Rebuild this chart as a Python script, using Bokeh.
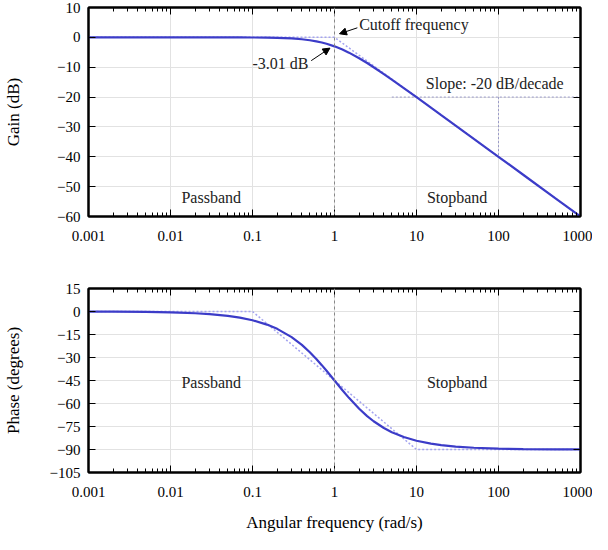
from bokeh.plotting import figure
from bokeh.layouts import column
from bokeh.models import (FixedTicker, CustomJSTickFormatter, LogAxis, LinearAxis,
                          Span, Arrow, NormalHead, Label)
from bokeh.embed import file_html
from bokeh.resources import INLINE

# ---- data ----
freq = [0.001, 0.002, 0.005, 0.01, 0.02, 0.03, 0.05, 0.07, 0.1, 0.15, 0.2, 0.3, 0.4,
        0.5, 0.6, 0.7, 0.8, 1.0, 1.25, 1.5, 2.0, 2.5, 3.0, 4.0, 5.0, 7.0, 10.0, 15.0,
        20.0, 30.0, 50.0, 100.0, 200.0, 500.0, 1000.0]
gain_db = [0.0, 0.0, 0.0, 0.0, 0.0, 0.0, -0.01, -0.02, -0.04, -0.1, -0.17, -0.37, -0.64,
           -0.97, -1.34, -1.73, -2.15, -3.01, -4.08, -5.12, -6.99, -8.6, -10.0, -12.3,
           -14.15, -16.99, -20.04, -23.53, -26.03, -29.55, -33.98, -40.0, -46.02, -53.98,
           -60.0]
phase_deg = [-0.06, -0.11, -0.29, -0.57, -1.15, -1.72, -2.86, -4.0, -5.71, -8.53, -11.31,
             -16.7, -21.8, -26.57, -30.96, -34.99, -38.66, -45.0, -51.34, -56.31, -63.43,
             -68.2, -71.57, -75.96, -78.69, -81.87, -84.29, -86.19, -87.14, -88.09,
             -88.85, -89.43, -89.71, -89.89, -89.94]

gain_asym_f = [0.001, 1.0, 1000.0]
gain_asym = [0.0, 0.0, -60.0]
phase_asym_f = [0.001, 0.1, 10.0, 1000.0]
phase_asym = [0.0, 0.0, -90.0, -90.0]

x_ticks = [0.001, 0.01, 0.1, 1, 10, 100, 1000]
gain_ticks = [-60, -50, -40, -30, -20, -10, 0, 10]
phase_ticks = [-105, -90, -75, -60, -45, -30, -15, 0, 15]
cutoff = 1.0
slope_ref_db = -20.0

FONT = "Liberation Serif"
CURVE = "#3c3cc8"
ASYM = "#a4a4f0"
GRID = "#e2e2e2"
FRAME = "black"

minor = [m * d for d in x_ticks[:-1] for m in range(2, 10)]


def style(p, yticks, ylabel, xlabel=None, ylabel_standoff=30, extras=True):
    p.outline_line_color = FRAME
    p.outline_line_width = 2
    xa = p.xaxis[0]
    xa.ticker = FixedTicker(ticks=x_ticks, minor_ticks=minor)
    xa.formatter = CustomJSTickFormatter(code="return tick >= 1 ? tick.toFixed(0) : tick.toPrecision(1);")
    ya = p.yaxis[0]
    ya.ticker = FixedTicker(ticks=yticks)
    for ax in (xa, ya):
        ax.axis_line_color = FRAME
        ax.axis_line_width = 2
        ax.major_tick_in = 7
        ax.major_tick_out = 0
        ax.major_label_text_font = FONT
        ax.major_label_text_font_size = "15px"
        ax.major_label_text_color = "black"
        ax.axis_label_text_font = FONT
        ax.axis_label_text_font_size = "17px"
        ax.axis_label_text_font_style = "normal"
        ax.axis_label_text_color = "black"
    xa.minor_tick_in = 4
    xa.minor_tick_out = 0
    xa.major_label_standoff = 14
    ya.minor_tick_in = 0
    ya.minor_tick_out = 0
    ya.major_label_standoff = 8
    ya.axis_label = ylabel
    ya.axis_label_standoff = ylabel_standoff
    if xlabel:
        xa.axis_label = xlabel
        xa.axis_label_standoff = 13
    if extras:
        empty = CustomJSTickFormatter(code="return '';")
        top = LogAxis(ticker=FixedTicker(ticks=x_ticks, minor_ticks=minor), formatter=empty,
                      axis_line_color=FRAME, axis_line_width=2,
                      major_tick_in=7, major_tick_out=0, minor_tick_in=4, minor_tick_out=0)
        p.add_layout(top, "above")
        right = LinearAxis(ticker=FixedTicker(ticks=yticks), formatter=empty,
                           axis_line_color=FRAME, axis_line_width=2,
                           major_tick_in=7, major_tick_out=0, minor_tick_in=0, minor_tick_out=0)
        p.add_layout(right, "right")
    p.xgrid.grid_line_color = GRID
    p.ygrid.grid_line_color = GRID


# ---- gain plot ----
p1 = figure(width=592, height=262, x_axis_type="log", x_range=(0.001, 1000), y_range=(-60, 10),
            output_backend="svg", toolbar_location=None,
            min_border_left=77, min_border_right=12, min_border_top=7, min_border_bottom=46)
style(p1, gain_ticks, "Gain (dB)", ylabel_standoff=31)
p1.add_layout(Span(location=cutoff, dimension="height", line_color="#888888",
                   line_dash="3 3", line_width=1))
p1.line(gain_asym_f, gain_asym, line_color=ASYM, line_width=1.5, line_dash="2 2")
p1.segment(x0=[5.0], y0=[slope_ref_db], x1=[1000.0], y1=[slope_ref_db],
           line_color="#9a9ac8", line_dash="2 2", line_width=1)
p1.segment(x0=[100.0], y0=[slope_ref_db], x1=[100.0], y1=[slope_ref_db - 20],
           line_color="#9a9ac8", line_dash="2 2", line_width=1)
p1.line(freq, gain_db, line_color=CURVE, line_width=2.2)

head = dict(size=7, fill_color="black", line_color="black")
p1.add_layout(Arrow(end=NormalHead(**head), x_start=1.9, y_start=3.2, x_end=1.15, y_end=1.2,
                    line_color="black", line_width=1))
p1.add_layout(Arrow(end=NormalHead(**head), x_start=0.52, y_start=-7.8, x_end=0.88, y_end=-3.6,
                    line_color="black", line_width=1))
lab = dict(text_font=FONT, text_font_size="16px", text_color="#222222", text_baseline="middle")
p1.add_layout(Label(x=2.0, y=4.2, text="Cutoff frequency", **lab))
p1.add_layout(Label(x=0.1, y=-8.8, text="-3.01 dB", **lab))
p1.add_layout(Label(x=13.0, y=-15.5, text="Slope: -20 dB/decade", **lab))
p1.add_layout(Label(x=0.0136, y=-53.5, text="Passband", **lab))
p1.add_layout(Label(x=13.4, y=-53.5, text="Stopband", **lab))

# ---- phase plot ----
p2 = figure(width=592, height=272, x_axis_type="log", x_range=(0.001, 1000), y_range=(-105, 15),
            output_backend="svg", toolbar_location=None,
            min_border_left=77, min_border_right=12, min_border_top=26, min_border_bottom=59)
style(p2, phase_ticks, "Phase (degrees)", xlabel="Angular frequency (rad/s)", ylabel_standoff=24)
p2.add_layout(Span(location=cutoff, dimension="height", line_color="#888888",
                   line_dash="3 3", line_width=1))
p2.line(phase_asym_f, phase_asym, line_color=ASYM, line_width=1.5, line_dash="2 2")
p2.line(freq, phase_deg, line_color=CURVE, line_width=2.2)
p2.add_layout(Label(x=0.0136, y=-46.6, text="Passband", **lab))
p2.add_layout(Label(x=13.4, y=-46.6, text="Stopband", **lab))

layout = column(p1, p2)
open("out.html", "w").write(file_html(layout, INLINE))
